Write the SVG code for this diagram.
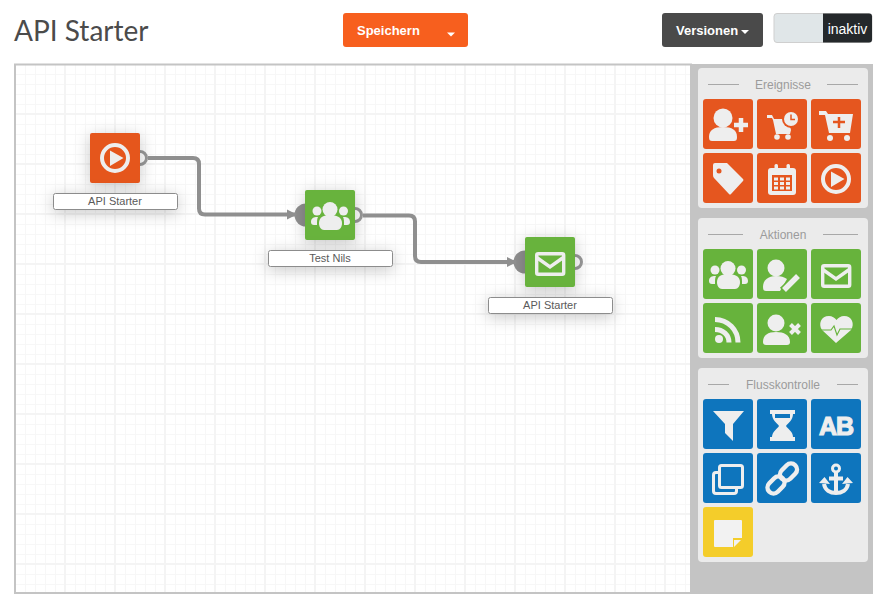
<svg xmlns="http://www.w3.org/2000/svg" width="884" height="604" viewBox="0 0 884 604">
<style>
text{font-family:"Liberation Sans",Arial,sans-serif}
.title{font-family:Lato,"Open Sans",sans-serif;font-size:28px;fill:#4b4b4b}
.btn{font-size:13px;font-weight:700;fill:#fff}
.head{font-size:12px;fill:#9b9b9b;text-anchor:middle}
.rule{stroke:#a8a8a8;stroke-width:1}
.card{fill:#ebebeb}
.or{fill:#e5561f}.gr{fill:#67b33c}.bl{fill:#0e75bd}.ye{fill:#f4cd2a}
.ic{fill:#eeeeee}
.ln{fill:none;stroke:#eeeeee}
.lbl{fill:#fff;stroke:#8c8c8c;stroke-width:1}
.lbt{font-size:11px;fill:#5a5a5a;text-anchor:middle}
.in{fill:#8f8f8f}
.out{fill:#fff;stroke:#999;stroke-width:3}
.conn{fill:none;stroke:#8f8f8f;stroke-width:4;marker-end:url(#arr)}
</style>
<defs>
<pattern id="grid" patternUnits="userSpaceOnUse" x="14" y="63" width="50" height="50">
<rect width="50" height="50" fill="#fff"/>
<path d="M11.500 0V50M21.500 0V50M31.500 0V50M41.500 0V50M0 11.500H50M0 21.500H50M0 31.500H50M0 41.500H50" stroke="#f7f7f7" stroke-width="1" fill="none"/>
<path d="M1 0V50M0 1H50" stroke="#f4f4f4" stroke-width="2" fill="none"/>
</pattern>
<marker id="arr" markerUnits="userSpaceOnUse" markerWidth="12" markerHeight="12" refX="9" refY="6" orient="auto"><path d="M0 1L10 6L0 11Z" fill="#8f8f8f"/></marker>
<filter id="sh" x="-60%" y="-120%" width="220%" height="340%"><feDropShadow dx="0" dy="3" stdDeviation="8" flood-color="#000" flood-opacity=".22"/></filter>
<symbol id="i-users" viewBox="0 0 50 50" overflow="visible"><circle class="ic" cx="25" cy="19.500" r="7.500"/><path class="ic" d="M14 33c0-6 5-8 11-8s12 2 12 8c0 4-2 7-5 7H19c-3 0-5-3-5-7Z"/><circle class="ic" cx="12" cy="21" r="4.500"/><circle class="ic" cx="38.500" cy="21" r="4.500"/><path class="ic" d="M6 32c0-4 3-5 6-5h1c-1 2-1 4-1 8H9c-2 0-3-1-3-3ZM45 32c0-4-3-5-6-5h-1c1 2 1 4 1 8h3c2 0 3-1 3-3Z"/></symbol>
<symbol id="i-adduser" viewBox="0 0 50 50" overflow="visible"><circle class="ic" cx="20" cy="19" r="9.500"/><path class="ic" d="M6 38c0-7 5-10 14-10s14 3 14 10c0 3-1 4-3 4H9c-2 0-3-1-3-4Z"/><path fill="none" stroke="#e5561f" stroke-width="8" d="M31 26H45M38 19V33"/><path class="ln" stroke-width="4.500" d="M31 26H45M38 19V33"/></symbol>
<symbol id="i-cartclock" viewBox="0 0 50 50" overflow="visible"><path class="ic" d="M10 16h5l2 4h14l3 11-1 4H19l-3-14-1-2h-5Z"/><circle class="ic" cx="20" cy="38" r="2.800"/><circle class="ic" cx="31" cy="38" r="2.800"/><circle class="or" cx="34" cy="20" r="9"/><circle class="ic" cx="34" cy="20" r="7"/><path fill="none" stroke="#e5561f" stroke-width="1.500" d="M34 15.500V20.500H38"/></symbol>
<symbol id="i-cartplus" viewBox="0 0 50 50" overflow="visible"><path class="ic" d="M8 12h7l2 3h25l-3 19H18L14 16H8Z"/><circle class="ic" cx="19" cy="39" r="3"/><circle class="ic" cx="36" cy="39" r="3"/><path fill="none" stroke="#e5561f" stroke-width="2.500" d="M22 23H34M28 18V29"/></symbol>
<symbol id="i-tag" viewBox="0 0 50 50" overflow="visible"><path class="ic" d="M12 10H24L40 26Q41 27 40 28L28 41Q27 42 26 41L11 25Q10 24 10 22V12Q10 10 12 10Z"/><circle class="or" cx="16" cy="18" r="2.500"/></symbol>
<symbol id="i-cal" viewBox="0 0 50 50" overflow="visible"><rect class="ic" x="11" y="15" width="28" height="27" rx="3"/><rect class="ic" x="17.500" y="11" width="3.500" height="7" rx="1.500"/><rect class="ic" x="29.500" y="11" width="3.500" height="7" rx="1.500"/><rect class="or" x="15" y="22" width="20" height="16"/><path fill="none" stroke="#eeeeee" stroke-width="3" stroke-dasharray="4 2" d="M17 26H33M17 30.500H33M17 35H33"/></symbol>
<symbol id="i-play" viewBox="0 0 50 50" overflow="visible"><circle class="ln" cx="25" cy="26" r="13" stroke-width="4"/><path class="ic" d="M20 18.500L33.500 26L20 34Z"/></symbol>
<symbol id="i-edit" viewBox="0 0 50 50" overflow="visible"><circle class="ic" cx="19" cy="19" r="8.500"/><path class="ic" d="M6 38c0-7 5-11 13-11 5 0 8 1 11 3l-7 12H9c-2 0-3-1-3-4Z"/><path fill="none" stroke="#67b33c" stroke-width="9" d="M26 42L42 27"/><path class="ln" stroke-width="5.500" d="M27 41L41 27"/></symbol>
<symbol id="i-mail" viewBox="0 0 50 50" overflow="visible"><rect class="ln" x="11.700" y="16.700" width="27" height="20.600" rx="1.500" stroke-width="3.400"/><path class="ln" stroke-width="3.400" d="M11 20L25 30L39 20"/></symbol>
<symbol id="i-rss" viewBox="0 0 50 50" overflow="visible"><circle class="ic" cx="16" cy="36" r="4"/><path class="ln" stroke-width="5" d="M12 26.500C20 26.500 26 32 26 39.500M12 16.500C25 16.500 35 27 35 39.500"/></symbol>
<symbol id="i-deluser" viewBox="0 0 50 50" overflow="visible"><circle class="ic" cx="19" cy="20" r="8.500"/><path class="ic" d="M6 39c0-7 5-10 13-10s14 3 14 10c0 2-1 3-3 3H9c-2 0-3-1-3-3Z"/><path class="ln" stroke-width="4" d="M33.500 21.500L42.500 30.500M42.500 21.500L33.500 30.500"/></symbol>
<symbol id="i-heart" viewBox="0 0 50 50" overflow="visible"><path class="ic" d="M25 40L11 27C7 21 10 13 18 13C21 13 24 15 25.500 17C27 15 30 13 33 13C41 13 44 21 40 27Z"/><path fill="none" stroke="#67b33c" stroke-width="1.100" d="M8 27H20L23 23L26 32L29 26H43"/></symbol>
<symbol id="i-filter" viewBox="0 0 50 50" overflow="visible"><path class="ic" d="M10 12H41L30 25V42L22 34V25Z"/></symbol>
<symbol id="i-hour" viewBox="0 0 50 50" overflow="visible"><path class="ic" d="M13 11H38V15H36C36 21 31 24 29 27C31 30 36 33 36 38H38V42H13V38H15C15 33 20 30 22 27C20 24 15 21 15 15H13Z"/><path class="bl" d="M18 15H33V19H18Z"/></symbol>
<symbol id="i-copy" viewBox="0 0 50 50" overflow="visible"><rect class="ln" x="16.500" y="12.500" width="23" height="22" rx="2" stroke-width="3"/><path class="ln" stroke-width="3" d="M16 19.500H13Q10.500 19.500 10.500 22V38Q10.500 40.500 13 40.500H31Q33.500 40.500 33.500 38V35"/></symbol>
<symbol id="i-link" viewBox="0 0 50 50" overflow="visible"><rect class="ln" x="9.500" y="26" width="19" height="12" rx="6" stroke-width="4.500" transform="rotate(-45 19 32)"/><rect class="ln" x="22" y="13" width="19" height="12" rx="6" stroke-width="4.500" transform="rotate(-45 31.500 19)"/></symbol>
<symbol id="i-anchor" viewBox="0 0 50 50" overflow="visible"><circle class="ln" cx="25" cy="15.500" r="3.500" stroke-width="3"/><path class="ln" stroke-width="4" d="M25 20V41M18 25.500H32M13 31C14 37 19 40 25 40S36 37 37 31"/><path class="ic" d="M8 30L13.500 24L19 31ZM42 30L36.500 24L31 31Z"/></symbol>
<symbol id="i-note" viewBox="0 0 50 50" overflow="visible"><path fill="#f2f2f2" d="M12 13H38Q39 13 39 14V31H30V40H12Q11 40 11 39V14Q11 13 12 13Z"/><path fill="#f2f2f2" d="M31 33H38L31 40Z"/></symbol>
</defs>

<rect width="884" height="604" fill="#fff"/>
<text class="title" x="14" y="41">API Starter</text>

<g id="btn-save"><rect x="343" y="13" width="125" height="34" rx="3" fill="#f75f1e"/><text class="btn" x="357" y="35">Speichern</text><path d="M447 32.500H455L451 36.500Z" fill="#fff"/></g>
<g id="btn-versions"><rect x="662" y="13" width="101" height="34" rx="3" fill="#4a4a4a"/><text class="btn" x="676" y="35">Versionen</text><path d="M741 30H749L745 34Z" fill="#fff"/></g>
<g id="toggle"><rect x="774" y="13.500" width="98" height="29" rx="3" fill="#e0e6e8" stroke="#cfcfcf"/><path d="M823 13.500H869Q872 13.500 872 16.500V39.500Q872 42.500 869 42.500H823Z" fill="#24282b"/><text x="847.500" y="33.500" font-size="14" fill="#fff" text-anchor="middle">inaktiv</text></g>

<g id="canvas"><rect x="15" y="64.500" width="676" height="528.500" fill="url(#grid)" stroke="#c4c4c4" stroke-width="2"/></g>

<g id="palette">
<rect x="691" y="64" width="182" height="530" fill="#c4c4c4"/>
<g id="panel-events"><rect class="card" x="698" y="68" width="170" height="140" rx="4"/>
<path class="rule" d="M708 84.500H739M827 84.500H858"/><text class="head" x="783" y="89">Ereignisse</text>
<g id="p-adduser"><rect class="or" x="703" y="99" width="50" height="50" rx="3"/><use href="#i-adduser" x="703" y="99" width="50" height="50"/></g>
<g id="p-cartclock"><rect class="or" x="757" y="99" width="50" height="50" rx="3"/><use href="#i-cartclock" x="757" y="99" width="50" height="50"/></g>
<g id="p-cartplus"><rect class="or" x="811" y="99" width="50" height="50" rx="3"/><use href="#i-cartplus" x="811" y="99" width="50" height="50"/></g>
<g id="p-tag"><rect class="or" x="703" y="153" width="50" height="50" rx="3"/><use href="#i-tag" x="703" y="153" width="50" height="50"/></g>
<g id="p-cal"><rect class="or" x="757" y="153" width="50" height="50" rx="3"/><use href="#i-cal" x="757" y="153" width="50" height="50"/></g>
<g id="p-play"><rect class="or" x="811" y="153" width="50" height="50" rx="3"/><use href="#i-play" x="811" y="153" width="50" height="50"/></g>
</g>
<g id="panel-actions"><rect class="card" x="698" y="218" width="170" height="140" rx="4"/>
<path class="rule" d="M708 234.500H743M823 234.500H858"/><text class="head" x="783" y="239">Aktionen</text>
<g id="p-users"><rect class="gr" x="703" y="249" width="50" height="50" rx="3"/><use href="#i-users" x="703" y="249" width="50" height="50"/></g>
<g id="p-edit"><rect class="gr" x="757" y="249" width="50" height="50" rx="3"/><use href="#i-edit" x="757" y="249" width="50" height="50"/></g>
<g id="p-mail"><rect class="gr" x="811" y="249" width="50" height="50" rx="3"/><use href="#i-mail" x="811" y="249" width="50" height="50"/></g>
<g id="p-rss"><rect class="gr" x="703" y="303" width="50" height="50" rx="3"/><use href="#i-rss" x="703" y="303" width="50" height="50"/></g>
<g id="p-deluser"><rect class="gr" x="757" y="303" width="50" height="50" rx="3"/><use href="#i-deluser" x="757" y="303" width="50" height="50"/></g>
<g id="p-heart"><rect class="gr" x="811" y="303" width="50" height="50" rx="3"/><use href="#i-heart" x="811" y="303" width="50" height="50"/></g>
</g>
<g id="panel-flow"><rect class="card" x="698" y="368" width="170" height="194" rx="4"/>
<path class="rule" d="M708 384.500H729M837 384.500H858"/><text class="head" x="783" y="389">Flusskontrolle</text>
<g id="p-filter"><rect class="bl" x="703" y="399" width="50" height="50" rx="3"/><use href="#i-filter" x="703" y="399" width="50" height="50"/></g>
<g id="p-hour"><rect class="bl" x="757" y="399" width="50" height="50" rx="3"/><use href="#i-hour" x="757" y="399" width="50" height="50"/></g>
<g id="p-ab"><rect class="bl" x="811" y="399" width="50" height="50" rx="3"/><text x="836" y="435" font-size="25" font-weight="700" letter-spacing="-1" text-anchor="middle" fill="#eee" stroke="#eee" stroke-width="1.200">AB</text></g>
<g id="p-copy"><rect class="bl" x="703" y="453" width="50" height="50" rx="3"/><use href="#i-copy" x="703" y="453" width="50" height="50"/></g>
<g id="p-link"><rect class="bl" x="757" y="453" width="50" height="50" rx="3"/><use href="#i-link" x="757" y="453" width="50" height="50"/></g>
<g id="p-anchor"><rect class="bl" x="811" y="453" width="50" height="50" rx="3"/><use href="#i-anchor" x="811" y="453" width="50" height="50"/></g>
<g id="p-note"><rect class="ye" x="703" y="507" width="50" height="50" rx="3"/><use href="#i-note" x="703" y="507" width="50" height="50"/></g>
</g>
</g>

<g id="node-1"><circle class="out" cx="140" cy="158" r="6.500"/><rect class="or" x="90" y="133" width="50" height="50" rx="2" filter="url(#sh)"/><use href="#i-play" x="90" y="132" width="50" height="50"/><rect class="lbl" x="53.500" y="193.500" width="124" height="16" rx="2" filter="url(#sh)"/><text class="lbt" x="115" y="205">API Starter</text></g>
<g id="node-2"><circle class="in" cx="306" cy="215" r="11.500"/><circle class="out" cx="355" cy="215" r="6.500"/><rect class="gr" x="305" y="190" width="50" height="50" rx="2" filter="url(#sh)"/><use href="#i-users" x="305" y="190" width="50" height="50"/><rect class="lbl" x="268.500" y="250.500" width="124" height="16" rx="2" filter="url(#sh)"/><text class="lbt" x="330" y="262">Test Nils</text></g>
<g id="node-3"><circle class="in" cx="525" cy="262" r="11.500"/><circle class="out" cx="575" cy="262" r="6.500"/><rect class="gr" x="525" y="237" width="50" height="50" rx="2" filter="url(#sh)"/><use href="#i-mail" x="525" y="237" width="50" height="50"/><rect class="lbl" x="488.500" y="297.500" width="124" height="16" rx="2" filter="url(#sh)"/><text class="lbt" x="550" y="309">API Starter</text></g>

<g id="connectors">
<path class="conn" d="M148 158H193Q199 158 199 164V208.500Q199 214.500 205 214.500H296"/>
<path class="conn" d="M363 215.500H409Q415 215.500 415 221.500V256Q415 262 421 262H516"/>
</g>
</svg>
